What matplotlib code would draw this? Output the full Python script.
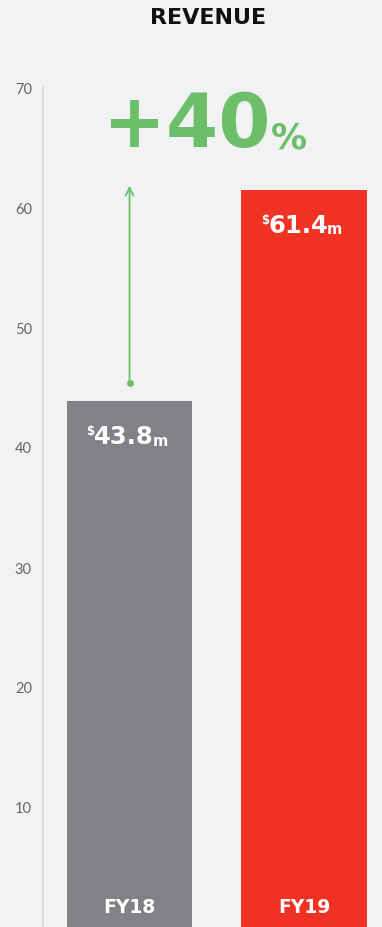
import matplotlib
matplotlib.use("Agg")
import matplotlib.pyplot as plt
from matplotlib.patches import FancyArrowPatch

# Revenue by fiscal year ($m)
years = ["FY18", "FY19"]
revenue = [43.8, 61.4]
growth_label = "+40"
yticks = [10, 20, 30, 40, 50, 60, 70]

BG = "#f1f2f2"
BAR_COLORS = ["#808285", "#ef3224"]
GREEN = "#6cbf68"
FONT = ["DejaVu Sans"]

fig = plt.figure(figsize=(3.82, 9.28), dpi=100, facecolor=BG)
ax = fig.add_axes([43 / 382, 0, 1 - 43 / 382, (928 - 88) / 928], facecolor=BG)

x = list(range(len(years)))
ax.bar(x, revenue, width=0.717, color=BAR_COLORS, zorder=2)

ax.set_xlim(-0.496, 1.447)
ax.set_ylim(0, 70)
ax.set_yticks(yticks)
ax.set_yticklabels([str(t) for t in yticks], family=["Lato", "DejaVu Sans"],
                   fontweight="normal", fontsize=10.5, color="#666666")
ax.tick_params(axis="y", length=0, pad=8)
ax.set_xticks([])
for side in ["top", "right", "bottom"]:
    ax.spines[side].set_visible(False)
ax.spines["left"].set_color("#d6d7d7")
ax.spines["left"].set_linewidth(1.2)

# Title
fig.text(208 / 382, 1 - 18 / 928, "REVENUE", ha="center", va="center",
         family=FONT, fontweight="bold", fontsize=16, color="#111111")

# Category labels inside bars
for xi, name in zip(x, years):
    ax.text(xi, 1.67, name, ha="center", va="center", family=FONT,
            fontweight="bold", fontsize=13.5, color="white", zorder=3)

# Value labels: small "$" prefix, number, small "m" suffix
fig.canvas.draw()
renderer = fig.canvas.get_renderer()
for xi, val in zip(x, revenue):
    ty = val - 2.9
    t = ax.text(xi - 0.035, ty, f"{val:.1f}", ha="center", va="center",
                family=FONT, fontweight="bold", fontsize=17.5,
                color="white", zorder=3)
    bb = t.get_window_extent(renderer).transformed(ax.transData.inverted())
    ax.text(bb.x0 + 0.005, ty + 0.45, "$", ha="right", va="center",
            family=FONT, fontweight="bold", fontsize=8.5,
            color="white", zorder=3)
    ax.text(bb.x1 - 0.005, bb.y0 + 0.3, "m", ha="left", va="baseline",
            family=FONT, fontweight="bold", fontsize=10.5,
            color="white", zorder=3)

# Growth arrow from FY18 to the FY19 level
arrow_top = revenue[1] + 0.6
arrow_bottom = revenue[0] + 1.5
ax.add_patch(FancyArrowPatch((0, arrow_bottom), (0, arrow_top), arrowstyle="->",
                             mutation_scale=14, color=GREEN, lw=1.3, zorder=3))
ax.plot([0], [arrow_bottom], "o", color=GREEN, ms=4, zorder=4)

# Growth headline
g = ax.text(0.33, 66.8, growth_label, ha="center", va="center",
            family=FONT, fontweight="bold", fontsize=54, color=GREEN)
fig.canvas.draw()
gb = g.get_window_extent(renderer).transformed(ax.transData.inverted())
ax.text(gb.x1 + 0.0, gb.y0 + 0.62, "%", ha="left", va="bottom",
        family=FONT, fontweight="bold", fontsize=26, color=GREEN)

fig.savefig("out.png", dpi=100, facecolor=BG)
